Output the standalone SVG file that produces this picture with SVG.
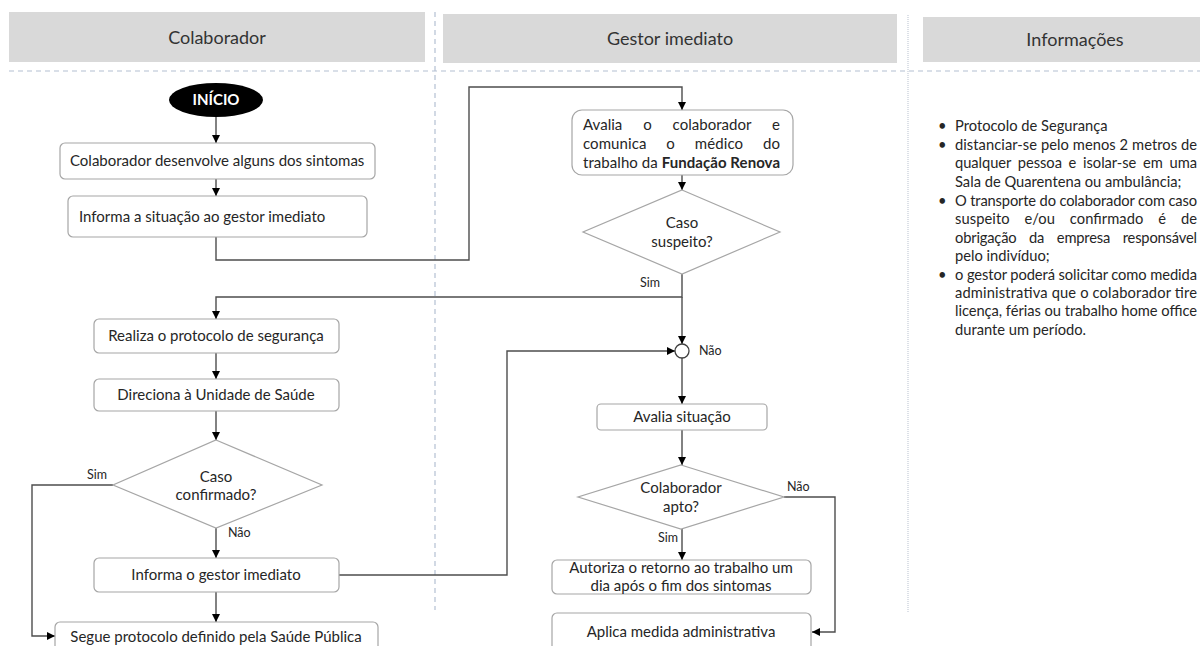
<svg xmlns="http://www.w3.org/2000/svg" width="1200" height="646" viewBox="0 0 1200 646">
<style>
text{font-family:Lato,"Open Sans","Liberation Sans",sans-serif;fill:#262626}
.hdr{fill:#d9d9d9}
.ht{font-size:18px;text-anchor:middle;fill:#333}
.box{fill:#fff;stroke:#a6a6a6;stroke-width:1.2}
.dia{fill:#fff;stroke:#a6a6a6;stroke-width:1.2}
.t{font-size:15px}
.c{text-anchor:middle}
.lbl{font-size:12.5px}
.info{font-size:14.7px}
.con{fill:none;stroke:#4d4d4d;stroke-width:1.4}
.sep{fill:none;stroke:#b4c0d2;stroke-width:1.2;stroke-dasharray:5 4}
</style>
<defs>
<marker id="ah" markerUnits="userSpaceOnUse" markerWidth="9" markerHeight="9" refX="8" refY="4" orient="auto">
<path d="M0,0 L8,4 L0,8 z" fill="#000"/>
</marker>
</defs>
<rect width="1200" height="646" fill="#fff"/>
<g id="lanes">
<rect class="hdr" x="9" y="12" width="416" height="50"/>
<text class="ht" x="217" y="44">Colaborador</text>
<rect class="hdr" x="443" y="14" width="454" height="49"/>
<text class="ht" x="670" y="45">Gestor imediato</text>
<rect class="hdr" x="923" y="17" width="305" height="45"/>
<text class="ht" x="1075" y="46">Informações</text>
<line class="sep" x1="9" y1="71" x2="1200" y2="71"/>
<line class="sep" x1="435" y1="12" x2="435" y2="610"/>
<line x1="908" y1="15" x2="908" y2="612" stroke="#c5ccd8" stroke-width="1.2" stroke-dasharray="1 1"/>
</g>
<g id="connectors">
<path class="con" d="M216,117 V143" marker-end="url(#ah)"/>
<path class="con" d="M216,179 V196" marker-end="url(#ah)"/>
<path class="con" d="M216,237 V260 H469 V87 H682 V110" marker-end="url(#ah)"/>
<path class="con" d="M682,175 V190" marker-end="url(#ah)"/>
<path class="con" d="M682,274 V297 H216 V319" marker-end="url(#ah)"/>
<path class="con" d="M682,297 V344" marker-end="url(#ah)"/>
<path class="con" d="M216,353 V379" marker-end="url(#ah)"/>
<path class="con" d="M216,411 V440" marker-end="url(#ah)"/>
<path class="con" d="M113,485 H32 V636 H55" marker-end="url(#ah)"/>
<path class="con" d="M216,528 V558" marker-end="url(#ah)"/>
<path class="con" d="M216,592 V622" marker-end="url(#ah)"/>
<path class="con" d="M339,575 H507 V351 H675" marker-end="url(#ah)"/>
<path class="con" d="M682,358 V404" marker-end="url(#ah)"/>
<path class="con" d="M682,430 V465" marker-end="url(#ah)"/>
<path class="con" d="M682,529 V560" marker-end="url(#ah)"/>
<path class="con" d="M784,497 H835 V632 H812" marker-end="url(#ah)"/>
<text class="lbl" x="650" y="287" text-anchor="middle">Sim</text>
<text class="lbl" x="699" y="355">Não</text>
<text class="lbl" x="97" y="479" text-anchor="middle">Sim</text>
<text class="lbl" x="228" y="537">Não</text>
<text class="lbl" x="787" y="491">Não</text>
<text class="lbl" x="658" y="542">Sim</text>
</g>
<g id="inicio">
<ellipse cx="216" cy="100" rx="47" ry="17" fill="#000"/>
<text x="216" y="105" class="c" style="font-size:15px;font-weight:bold;fill:#fff">INÍCIO</text>
</g>
<g id="sintomas">
<rect class="box" x="60" y="143" width="315" height="36" rx="5"/>
<text class="t" x="70" y="166">Colaborador desenvolve alguns dos sintomas</text>
</g>
<g id="informa-situacao">
<rect class="box" x="68" y="196" width="299" height="41" rx="5"/>
<text class="t" x="79" y="222">Informa a situação ao gestor imediato</text>
</g>
<g id="avalia-colaborador">
<rect class="box" x="572" y="110" width="221" height="65" rx="10"/>
<text class="t" x="583" y="130" textLength="197" lengthAdjust="spacing" style="word-spacing:17px">Avalia o colaborador e</text>
<text class="t" x="583" y="149" textLength="197" lengthAdjust="spacing" style="word-spacing:16px">comunica o médico do</text>
<text class="t" x="583" y="168" textLength="197" lengthAdjust="spacing">trabalho da <tspan style="font-weight:bold">Fundação Renova</tspan></text>
</g>
<g id="caso-suspeito">
<polygon class="dia" points="682,190 780,232 682,274 583,232"/>
<text class="t c" x="682" y="228">Caso</text>
<text class="t c" x="682" y="247">suspeito?</text>
</g>
<g id="juncao">
<circle cx="682" cy="351" r="7" fill="#fff" stroke="#404040" stroke-width="1.3"/>
</g>
<g id="protocolo">
<rect class="box" x="94" y="319" width="245" height="34" rx="5"/>
<text class="t c" x="216" y="341">Realiza o protocolo de segurança</text>
</g>
<g id="direciona">
<rect class="box" x="94" y="379" width="245" height="32" rx="5"/>
<text class="t c" x="216" y="400">Direciona à Unidade de Saúde</text>
</g>
<g id="caso-confirmado">
<polygon class="dia" points="216,440 322,485 216,528 113,485"/>
<text class="t c" x="216" y="482">Caso</text>
<text class="t c" x="216" y="500">confirmado?</text>
</g>
<g id="informa-gestor">
<rect class="box" x="94" y="558" width="245" height="34" rx="5"/>
<text class="t c" x="216" y="580">Informa o gestor imediato</text>
</g>
<g id="segue-protocolo">
<rect class="box" x="55" y="622" width="323" height="34" rx="5"/>
<text class="t c" x="216" y="642">Segue protocolo definido pela Saúde Pública</text>
</g>
<g id="avalia-situacao">
<rect class="box" x="597" y="404" width="170" height="26" rx="4"/>
<text class="t c" x="682" y="422">Avalia situação</text>
</g>
<g id="colaborador-apto">
<polygon class="dia" points="681,465 784,497 681,529 578,497"/>
<text class="t c" x="681" y="493">Colaborador</text>
<text class="t c" x="681" y="512">apto?</text>
</g>
<g id="autoriza">
<rect class="box" x="552" y="560" width="259" height="34" rx="5"/>
<text class="t c" x="681" y="573">Autoriza o retorno ao trabalho um</text>
<text class="t c" x="681" y="591">dia após o fim dos sintomas</text>
</g>
<g id="aplica">
<rect class="box" x="552" y="613" width="259" height="40" rx="5"/>
<text class="t c" x="681" y="637">Aplica medida administrativa</text>
</g>
<g id="informacoes">
<text class="info" x="938" y="131">•</text>
<text class="info" x="938" y="150">•</text>
<text class="info" x="938" y="206">•</text>
<text class="info" x="938" y="280">•</text>
<text class="info" x="955" y="131">Protocolo de Segurança</text>
<text class="info" x="955" y="150" textLength="242" lengthAdjust="spacing">distanciar-se pelo menos 2 metros de</text>
<text class="info" x="955" y="168" textLength="242" lengthAdjust="spacing" style="word-spacing:3px">qualquer pessoa e isolar-se em uma</text>
<text class="info" x="955" y="187">Sala de Quarentena ou ambulância;</text>
<text class="info" x="955" y="206" textLength="242" lengthAdjust="spacing">O transporte do colaborador com caso</text>
<text class="info" x="955" y="224" textLength="242" lengthAdjust="spacing" style="word-spacing:11px">suspeito e/ou confirmado é de</text>
<text class="info" x="955" y="243" textLength="242" lengthAdjust="spacing" style="word-spacing:9px">obrigação da empresa responsável</text>
<text class="info" x="955" y="261">pelo indivíduo;</text>
<text class="info" x="955" y="280" textLength="242" lengthAdjust="spacing">o gestor poderá solicitar como medida</text>
<text class="info" x="955" y="298" textLength="242" lengthAdjust="spacing">administrativa que o colaborador tire</text>
<text class="info" x="955" y="316" textLength="242" lengthAdjust="spacing">licença, férias ou trabalho home office</text>
<text class="info" x="955" y="335">durante um período.</text>
</g>
</svg>
